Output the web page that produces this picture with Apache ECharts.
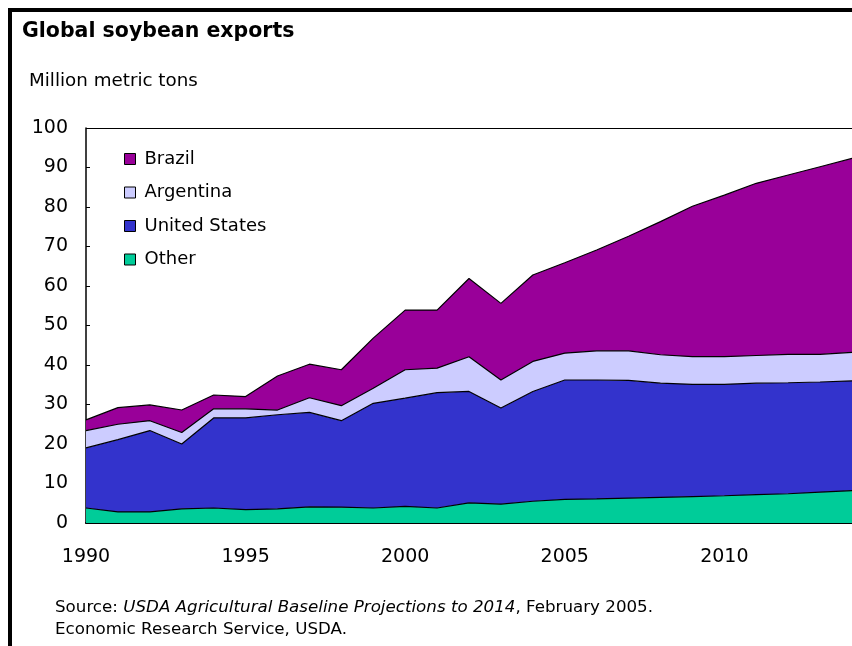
<!DOCTYPE html>
<html>
<head>
<meta charset="utf-8">
<script src="https://cdn.jsdelivr.net/npm/echarts@6/dist/echarts.min.js"></script>
<style>
  html, body { margin: 0; padding: 0; background: #fff; }
  #chart { width: 852px; height: 646px; }
</style>
</head>
<body>
<div id="chart"></div>
<script>
// years on the x axis
var years = [];
for (var y = 1990; y <= 2014; y++) years.push(String(y));

// million metric tons
var other = [3.8, 2.8, 2.8, 3.6, 3.8, 3.4, 3.6, 4.1, 4.0, 3.8, 4.2, 3.8, 5.1, 4.8, 5.5, 6.0, 6.1, 6.3, 6.5, 6.7, 6.9, 7.2, 7.4, 7.8, 8.2];
var unitedStates = [15.2, 18.3, 20.6, 16.4, 22.8, 23.2, 23.8, 23.9, 21.9, 26.5, 27.4, 29.2, 28.2, 24.3, 27.8, 30.2, 30.1, 29.8, 28.9, 28.4, 28.2, 28.2, 28.1, 27.9, 27.8];
var argentina = [4.4, 3.9, 2.5, 2.9, 2.3, 2.3, 1.2, 3.7, 3.8, 3.8, 7.2, 6.2, 8.8, 7.1, 7.6, 6.8, 7.4, 7.5, 7.2, 7.0, 7.0, 7.0, 7.2, 7.0, 7.2];
var brazil = [2.7, 4.2, 4.0, 5.7, 3.5, 3.1, 8.6, 8.5, 9.1, 12.7, 15.1, 14.7, 19.8, 19.4, 21.9, 22.9, 25.5, 29.0, 33.7, 38.1, 40.9, 43.6, 45.4, 47.5, 49.1];

var FONT = 'DejaVu Sans';

function areaSeries(name, data, color) {
    return {
        name: name,
        type: 'line',
        stack: 'total',
        data: data,
        symbol: 'none',
        lineStyle: { color: '#000', width: 1.2 },
        itemStyle: { color: color, borderColor: '#000', borderWidth: 1 },
        areaStyle: { color: color, opacity: 1 },
        emphasis: { disabled: true }
    };
}

var myChart = echarts.init(document.getElementById('chart'));
var option = {
    animation: false,
    backgroundColor: '#fff',
    grid: { left: 86, right: 0, top: 128, bottom: 123 },
    legend: {
        orient: 'vertical',
        left: 119,
        top: 145,
        itemWidth: 11,
        itemHeight: 11,
        itemGap: 15.5,
        icon: 'rect',
        data: ['Brazil', 'Argentina', 'United States', 'Other'],
        textStyle: { fontFamily: FONT, fontSize: 18, color: '#000', padding: [0, 0, 0, 4] },
        itemStyle: { borderColor: '#000', borderWidth: 1 }
    },
    xAxis: {
        type: 'category',
        boundaryGap: false,
        data: years,
        axisLine: { lineStyle: { color: '#000', width: 2 } },
        axisTick: { inside: true, length: 4, interval: 4, lineStyle: { color: '#000' } },
        axisLabel: { interval: 4, margin: 25, fontFamily: FONT, fontSize: 19, color: '#000' },
        splitLine: { show: false }
    },
    yAxis: {
        type: 'value',
        min: 0,
        max: 100,
        interval: 10,
        axisLine: { show: true, lineStyle: { color: '#000', width: 1.5 } },
        axisTick: { show: true, inside: true, length: 4, lineStyle: { color: '#000' } },
        axisLabel: { margin: 18, fontFamily: FONT, fontSize: 19, color: '#000' },
        splitLine: { show: false }
    },
    graphic: [
        { type: 'rect', shape: { x: 10, y: 10, width: 900, height: 700 },
          style: { fill: 'none', stroke: '#000', lineWidth: 4 }, silent: true },
        // top edge of the plot frame (no right edge in the original)
        { type: 'line', shape: { x1: 86, y1: 128.5, x2: 852, y2: 128.5 },
          style: { stroke: '#000', lineWidth: 1 }, silent: true },
        { type: 'text', left: 22, top: 21,
          style: { text: 'Global soybean exports', font: 'bold 20.5px "DejaVu Sans"', fill: '#000' } },
        { type: 'text', left: 29, top: 72,
          style: { text: 'Million metric tons', font: '18.3px "DejaVu Sans"', fill: '#000' } },
        { type: 'text', left: 55, top: 599,
          style: {
              text: '{n|Source: }{i|USDA Agricultural Baseline Projections to 2014}{n|, February 2005.}',
              rich: {
                  n: { fontFamily: FONT, fontSize: 16.7, fill: '#000' },
                  i: { fontFamily: FONT, fontSize: 16.7, fontStyle: 'italic', fill: '#000' }
              }
          } },
        { type: 'text', left: 55, top: 621,
          style: { text: 'Economic Research Service, USDA.', font: '16.7px "DejaVu Sans"', fill: '#000' } }
    ],
    series: [
        areaSeries('Other', other, '#00cc99'),
        areaSeries('United States', unitedStates, '#3333cc'),
        areaSeries('Argentina', argentina, '#ccccff'),
        areaSeries('Brazil', brazil, '#990099')
    ]
};
myChart.setOption(option);
</script>
</body>
</html>
